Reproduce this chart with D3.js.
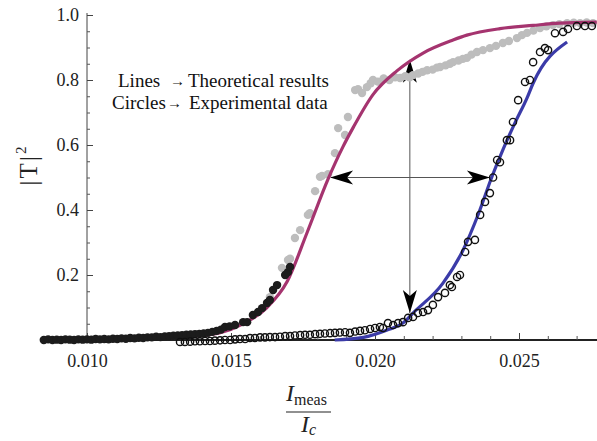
<!DOCTYPE html>
<html><head><meta charset="utf-8">
<script src="https://cdn.jsdelivr.net/npm/d3@7"></script>
<style>
html,body{margin:0;padding:0;background:#fff;}
svg{display:block;font-family:"Liberation Serif","Times New Roman",serif;}
</style></head>
<body><svg id="chart" width="597" height="441"></svg>
<script>
// ---------- data ----------
const xTicksMajor = [0.010, 0.015, 0.020, 0.025];
const xTickLabels = ["0.010", "0.015", "0.020", "0.025"];
const xTicksMinor = [0.011,0.012,0.013,0.014,0.016,0.017,0.018,0.019,0.021,0.022,0.023,0.024,0.026,0.027];
const yTicksMajor = [0.2, 0.4, 0.6, 0.8, 1.0];
const yTickLabels = ["0.2", "0.4", "0.6", "0.8", "1.0"];
const yTicksMinor = [0.05,0.1,0.15,0.25,0.3,0.35,0.45,0.5,0.55,0.65,0.7,0.75,0.85,0.9,0.95];

// theoretical curves
const pinkX = [0.0085,0.0110,0.0125,0.0137,0.0146,0.01542,0.01625,0.01695,0.01764,0.01837,0.01889,0.01925,0.01993,0.02076,0.02167,0.02271,0.02319,0.02434,0.02549,0.02642,0.0277];
const pinkY = [0.000,0.002,0.006,0.012,0.022,0.050,0.100,0.180,0.330,0.495,0.595,0.655,0.755,0.828,0.883,0.923,0.938,0.958,0.968,0.975,0.978];
const blueX = [0.0186,0.0196,0.0204,0.02097,0.02132,0.02236,0.02306,0.02360,0.02405,0.02444,0.02486,0.02528,0.02549,0.02667];
const blueY = [0.000,0.008,0.030,0.052,0.083,0.175,0.277,0.390,0.500,0.585,0.668,0.745,0.790,0.917];

// experimental: black filled dots
const blackX = [0.00850,0.00865,0.00880,0.00895,0.00910,0.00925,0.00940,0.00955,0.00970,0.00985,0.01000,0.01015,0.01030,0.01045,0.01060,0.01075,0.01090,0.01105,0.01120,0.01135,0.01150,0.01165,0.01180,0.01195,0.01210,0.01225,0.01240,0.01255,0.01270,0.01285,0.01300,0.01315,0.01330,0.01345,0.01360,0.01375,0.01390,0.01405,0.01420,0.01435,0.01450,0.01465,0.01479,0.01495,0.01514,0.01542,0.01556,0.01576,0.01594,0.01608,0.01625,0.01635,0.01646,0.01660,0.01688,0.01698,0.01705];
const blackY = [0.000,0.002,0.000,0.001,0.000,0.002,0.001,0.000,0.002,0.001,0.002,0.001,0.003,0.002,0.003,0.002,0.004,0.003,0.005,0.004,0.006,0.005,0.007,0.006,0.008,0.008,0.010,0.009,0.011,0.012,0.013,0.014,0.015,0.016,0.017,0.018,0.019,0.020,0.022,0.025,0.028,0.032,0.040,0.042,0.046,0.055,0.055,0.077,0.086,0.098,0.114,0.123,0.154,0.169,0.200,0.209,0.225];

// experimental: grey filled dots
const greyX = [0.01635,0.01677,0.01698,0.01705,0.01722,0.01740,0.01767,0.01774,0.01792,0.01809,0.01816,0.01837,0.01861,0.01872,0.01896,0.01906,0.01931,0.01941,0.01955,0.01972,0.01985,0.01993,0.02010,0.02030,0.02050,0.02070,0.02087,0.02105,0.02120,0.02132,0.02150,0.02165,0.02181,0.02200,0.02215,0.02226,0.02245,0.02260,0.02271,0.02290,0.02305,0.02319,0.02335,0.02354,0.02375,0.02399,0.02420,0.02444,0.02465,0.02493,0.02510,0.02528,0.02550,0.02573,0.02595,0.02618,0.02640,0.02667,0.02690,0.02712,0.02735,0.02757];
const greyY = [0.132,0.222,0.246,0.250,0.314,0.338,0.385,0.390,0.458,0.502,0.505,0.510,0.575,0.652,0.631,0.686,0.769,0.772,0.760,0.778,0.790,0.800,0.795,0.805,0.800,0.808,0.806,0.812,0.808,0.815,0.820,0.825,0.830,0.832,0.838,0.840,0.845,0.850,0.855,0.860,0.865,0.868,0.878,0.886,0.892,0.898,0.905,0.914,0.920,0.929,0.938,0.945,0.952,0.960,0.965,0.969,0.972,0.975,0.976,0.975,0.977,0.975];

// experimental: open circles
const ringX = [0.01323,0.01340,0.01358,0.01375,0.01392,0.01410,0.01427,0.01444,0.01462,0.01479,0.01497,0.01514,0.01531,0.01549,0.01566,0.01583,0.01601,0.01618,0.01635,0.01653,0.01670,0.01688,0.01705,0.01722,0.01740,0.01757,0.01774,0.01792,0.01809,0.01826,0.01844,0.01861,0.01878,0.01896,0.01913,0.01931,0.01948,0.01965,0.01983,0.02000,0.02017,0.02028,0.02045,0.02063,0.02080,0.02097,0.02115,0.02132,0.02149,0.02167,0.02184,0.02201,0.02219,0.02243,0.02260,0.02267,0.02285,0.02295,0.02313,0.02323,0.02347,0.02365,0.02382,0.02399,0.02410,0.02424,0.02434,0.02458,0.02469,0.02479,0.02497,0.02521,0.02538,0.02549,0.02573,0.02590,0.02601,0.02625,0.02653,0.02670,0.02701,0.02729,0.02753];
const ringY = [-0.006,-0.006,-0.005,-0.004,-0.004,-0.003,-0.003,-0.002,-0.001,0.000,0.000,0.002,0.003,0.003,0.006,0.006,0.008,0.008,0.009,0.009,0.010,0.012,0.012,0.014,0.015,0.016,0.016,0.018,0.019,0.020,0.021,0.022,0.023,0.024,0.022,0.026,0.028,0.030,0.034,0.037,0.040,0.037,0.052,0.046,0.052,0.055,0.068,0.071,0.083,0.086,0.092,0.108,0.132,0.145,0.169,0.163,0.194,0.200,0.271,0.302,0.308,0.385,0.425,0.452,0.500,0.554,0.547,0.615,0.615,0.671,0.738,0.794,0.800,0.855,0.886,0.898,0.892,0.944,0.948,0.957,0.966,0.966,0.966];

// annotation arrows (data coordinates)
const vArrow = {x: 0.02121, y0: 0.862, y1: 0.083};
const hArrow = {y: 0.500, x0: 0.01844, x1: 0.02399};

// ---------- drawing ----------
const svg = d3.select("#chart");
const x = d3.scaleLinear().domain([0.010, 0.025]).range([87, 519]);
const y = d3.scaleLinear().domain([0, 1]).range([340, 15]);
const zip = (a, b) => a.map((v, i) => [v, b[i]]);

// axes lines
svg.append("line").attr("x1", 40).attr("x2", 597).attr("y1", y(0)).attr("y2", y(0))
  .attr("stroke", "#222").attr("stroke-width", 2);
svg.append("line").attr("x1", x(0.010)).attr("x2", x(0.010)).attr("y1", y(0)).attr("y2", y(1) - 2)
  .attr("stroke", "#444").attr("stroke-width", 1);

// x axis
const gx = svg.append("g").attr("transform", `translate(0,${y(0)})`);
gx.call(d3.axisBottom(x).tickValues(xTicksMajor).tickFormat((d, i) => xTickLabels[i])
  .tickSizeInner(-7).tickSizeOuter(0).tickPadding(14));
gx.select(".domain").remove();
gx.selectAll("line").attr("stroke", "#444");
gx.selectAll("text").attr("font-size", 18).attr("fill", "#222").style("font-family", "Liberation Serif");
const gxm = svg.append("g").attr("transform", `translate(0,${y(0)})`);
gxm.call(d3.axisBottom(x).tickValues(xTicksMinor).tickFormat("").tickSizeInner(-4).tickSizeOuter(0));
gxm.select(".domain").remove();
gxm.selectAll("line").attr("stroke", "#555");

// y axis
const gy = svg.append("g").attr("transform", `translate(${x(0.010)},0)`);
gy.call(d3.axisLeft(y).tickValues(yTicksMajor).tickFormat((d, i) => yTickLabels[i])
  .tickSizeInner(-6).tickSizeOuter(0).tickPadding(8));
gy.select(".domain").remove();
gy.selectAll("line").attr("stroke", "#444");
gy.selectAll("text").attr("font-size", 18).attr("fill", "#222").style("font-family", "Liberation Serif");
const gym = svg.append("g").attr("transform", `translate(${x(0.010)},0)`);
gym.call(d3.axisLeft(y).tickValues(yTicksMinor).tickFormat("").tickSizeInner(-3).tickSizeOuter(0));
gym.select(".domain").remove();
gym.selectAll("line").attr("stroke", "#555");

// arrows
function arrowHead(tx, ty, angle) {
  const L = 23, W = 7, N = 17;
  const pts = [[0, 0], [-L, -W], [-N, 0], [-L, W]];
  const c = Math.cos(angle), s = Math.sin(angle);
  const p = pts.map(([a, b]) => [tx + a * c - b * s, ty + a * s + b * c]);
  svg.append("path").attr("d", "M" + p.join("L") + "Z").attr("fill", "#000");
}
svg.append("line").attr("x1", x(vArrow.x)).attr("x2", x(vArrow.x))
  .attr("y1", y(vArrow.y0)).attr("y2", y(vArrow.y1)).attr("stroke", "#555").attr("stroke-width", 1);
svg.append("line").attr("x1", x(hArrow.x0)).attr("x2", x(hArrow.x1))
  .attr("y1", y(hArrow.y)).attr("y2", y(hArrow.y)).attr("stroke", "#555").attr("stroke-width", 1);
arrowHead(x(vArrow.x), y(vArrow.y0), -Math.PI / 2);
arrowHead(x(vArrow.x), y(vArrow.y1), Math.PI / 2);
arrowHead(x(hArrow.x0), y(hArrow.y), Math.PI);
arrowHead(x(hArrow.x1), y(hArrow.y), 0);

// grey dots
svg.append("g").selectAll("circle").data(zip(greyX, greyY)).join("circle")
  .attr("cx", d => x(d[0])).attr("cy", d => y(d[1])).attr("r", 4.2).attr("fill", "#bdbdbd");

// theory lines
const line = d3.line().x(d => x(d[0])).y(d => y(d[1])).curve(d3.curveMonotoneX);
svg.append("path").attr("d", line(zip(pinkX, pinkY))).attr("fill", "none")
  .attr("stroke", "#a5346f").attr("stroke-width", 3.2);
svg.append("path").attr("d", line(zip(blueX, blueY))).attr("fill", "none")
  .attr("stroke", "#3b3ba8").attr("stroke-width", 3.2);

// black dots
svg.append("g").selectAll("circle").data(zip(blackX, blackY)).join("circle")
  .attr("cx", d => x(d[0])).attr("cy", d => y(d[1])).attr("r", 4.2).attr("fill", "#1c1c1c");

// open circles
svg.append("g").selectAll("circle").data(zip(ringX, ringY)).join("circle")
  .attr("cx", d => x(d[0])).attr("cy", d => y(d[1])).attr("r", 3.6)
  .attr("fill", "none").attr("stroke", "#111").attr("stroke-width", 1.4);

// annotation text
const ann = svg.append("g").attr("font-size", 19).attr("fill", "#111");
ann.append("text").attr("x", 118).attr("y", 87).text("Lines");
ann.append("text").attr("x", 170).attr("y", 86).attr("font-size", 15).text("→");
ann.append("text").attr("x", 188).attr("y", 87).text("Theoretical results");
ann.append("text").attr("x", 112).attr("y", 109).text("Circles");
ann.append("text").attr("x", 167).attr("y", 108).attr("font-size", 15).text("→");
ann.append("text").attr("x", 189).attr("y", 109).text("Experimental data");

// y label
const yl = svg.append("text").attr("transform", "translate(37,166) rotate(-90)")
  .attr("text-anchor", "middle").attr("font-size", 25).attr("fill", "#222");
yl.append("tspan").attr("letter-spacing", 2).text("|T|");
yl.append("tspan").attr("font-size", 15).attr("dy", -11).text("2");

// x label (fraction)
const xl = svg.append("g").attr("fill", "#222");
const num = xl.append("text").attr("x", 286).attr("y", 401).attr("font-size", 24);
num.append("tspan").attr("font-style", "italic").text("I");
num.append("tspan").attr("font-size", 16).attr("dy", 4).text("meas");
xl.append("line").attr("x1", 286).attr("x2", 331).attr("y1", 412).attr("y2", 412)
  .attr("stroke", "#222").attr("stroke-width", 1.2);
const den = xl.append("text").attr("x", 301).attr("y", 432).attr("font-size", 24);
den.append("tspan").attr("font-style", "italic").text("I");
den.append("tspan").attr("font-style", "italic").attr("font-size", 16).attr("dy", 3).text("c");
</script></body></html>
